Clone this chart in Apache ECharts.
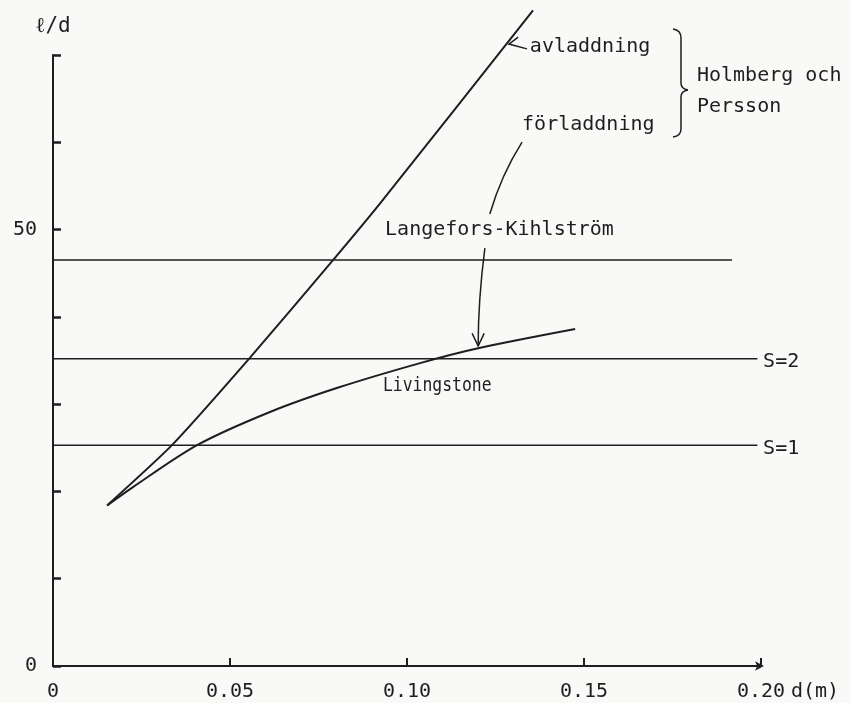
<!DOCTYPE html>
<html>
<head>
<meta charset="utf-8">
<script src="https://cdn.jsdelivr.net/npm/echarts@6/dist/echarts.min.js"></script>
<style>
  html, body { margin: 0; padding: 0; background: #f9f9f8; }
  #chart { width: 850px; height: 703px; }
</style>
</head>
<body>
<div id="chart"></div>
<script>
// Charge diameter d (m) against relative length l/d
const xTicks = [0, 0.05, 0.10, 0.15, 0.20];
const yLabelled = [0, 50];

// Holmberg & Persson, avladdning (discharge)
const avlD = [0.0153, 0.0336, 0.0556, 0.0791, 0.0924, 0.1356];
const avlV = [18.4, 25.3, 35.3, 46.5, 53.0, 75.1];

// Holmberg & Persson, förladdning (pre-charge)
const forD = [0.0153, 0.0226, 0.0407, 0.0613, 0.0806, 0.1037, 0.1201, 0.1475];
const forV = [18.4, 20.5, 25.3, 29.1, 31.9, 34.7, 36.4, 38.6];

// Horizontal reference levels: Langefors-Kihlström, S=2, S=1
const refNames = ['Langefors-Kihlström', 'S=2', 'S=1'];
const refLevels = [46.5, 35.2, 25.3];
const refEnds = [0.1918, 0.199, 0.199];

const INK = '#1e1e1e';
const FONT = 'DejaVu Sans Mono';

const zip = (xs, ys) => xs.map((x, i) => [x, ys[i]]);

const chart = echarts.init(document.getElementById('chart'));

const series = [
  {
    name: 'avladdning', type: 'line', data: zip(avlD, avlV),
    smooth: 0.2, symbol: 'none', clip: false,
    lineStyle: { color: INK, width: 2 }
  },
  {
    name: 'förladdning', type: 'line', data: zip(forD, forV),
    smooth: 0.3, symbol: 'none', clip: false,
    lineStyle: { color: INK, width: 2 }
  }
];
refLevels.forEach((lv, i) => {
  series.push({
    name: refNames[i], type: 'line', data: [[0, lv], [refEnds[i], lv]],
    symbol: 'none', clip: false,
    lineStyle: { color: INK, width: 1.5 }
  });
});

chart.setOption({
  backgroundColor: '#f9f9f8',
  animation: false,
  grid: { left: 53, right: 89, top: 55, bottom: 37, containLabel: false, outerBoundsMode: 'none' },
  xAxis: {
    type: 'value', min: 0, max: 0.2, interval: 0.05,
    name: 'd(m)', nameLocation: 'end', nameGap: 30,
    nameTextStyle: { fontFamily: FONT, fontSize: 20, color: INK, verticalAlign: 'top', padding: [16, 0, 0, 0] },
    axisLine: { lineStyle: { color: INK, width: 2 }, symbol: ['none', 'arrow'], symbolSize: [7, 9], symbolOffset: [0, 3] },
    axisTick: { inside: true, length: 8, lineStyle: { color: INK, width: 2 } },
    axisLabel: {
      fontFamily: FONT, fontSize: 20, color: INK, margin: 16,
      formatter: v => (v === 0 ? '0' : v.toFixed(2))
    },
    splitLine: { show: false }
  },
  yAxis: {
    type: 'value', min: 0, max: 70, interval: 10,
    name: 'ℓ/d', nameLocation: 'end', nameGap: 18,
    nameTextStyle: { fontFamily: FONT, fontSize: 21, color: INK, align: 'center' },
    axisLine: { lineStyle: { color: INK, width: 2 } },
    axisTick: { inside: true, length: 8, lineStyle: { color: INK, width: 2.5 } },
    axisLabel: {
      fontFamily: FONT, fontSize: 20, color: INK, margin: 16,
      formatter: v => (yLabelled.includes(v) ? String(v) : '')
    },
    splitLine: { show: false }
  },
  series: series
});

// Annotations placed in data units, converted through the grid
const P = (d, v) => chart.convertToPixel({ xAxisIndex: 0, yAxisIndex: 0 }, [d, v]);

function label(text, d, v, squeeze) {
  const p = P(d, v);
  return {
    type: 'text', x: p[0], y: p[1], scaleX: squeeze || 1, silent: true,
    style: {
      text: text, fill: INK, font: '20px "' + FONT + '"',
      textAlign: 'left', textVerticalAlign: 'middle', align: 'left', verticalAlign: 'middle'
    }
  };
}
function poly(pts, w) {
  return {
    type: 'polyline', silent: true,
    shape: { points: pts.map(q => P(q[0], q[1])) },
    style: { stroke: INK, lineWidth: w || 1.5, fill: null }
  };
}
function quad(a, c, b, w) {
  const pa = P(a[0], a[1]), pc = P(c[0], c[1]), pb = P(b[0], b[1]);
  return {
    type: 'bezierCurve', silent: true,
    shape: { x1: pa[0], y1: pa[1], cpx1: pc[0], cpy1: pc[1], x2: pb[0], y2: pb[1] },
    style: { stroke: INK, lineWidth: w || 1.5, fill: null }
  };
}

// right curly brace grouping the two Holmberg & Persson curves
const bx0 = 0.17514, bx1 = 0.17740, bx2 = 0.17938;
const brace = [
  quad([bx0, 72.97], [bx1, 72.85], [bx1, 71.94]),
  poly([[bx1, 71.94], [bx1, 66.78]]),
  quad([bx1, 66.78], [bx1, 66.09], [bx2, 65.98]),
  quad([bx2, 65.98], [bx1, 65.86], [bx1, 65.18]),
  poly([[bx1, 65.18], [bx1, 61.51]]),
  quad([bx1, 61.51], [bx1, 60.71], [bx0, 60.6])
];

chart.setOption({
  graphic: [
    label('avladdning', 0.1347, 70.9),
    label('förladdning', 0.1325, 62.0),
    label('Holmberg och', 0.1819, 67.6),
    label('Persson', 0.1819, 64.1),
    label('Langefors-Kihlström', 0.0938, 50.0),
    label('Livingstone', 0.0932, 32.1, 0.82),
    label('S=2', 0.2006, 34.9),
    label('S=1', 0.2006, 24.9),
    // small arrow pointing at the avladdning curve
    poly([[0.1314, 72.05], [0.1288, 71.25], [0.1339, 70.7]], 1.5),
    // leader from förladdning, through the Langefors-Kihlström label, to the curve
    quad([0.1325, 60.02], [0.1266, 56.24], [0.1234, 51.78]),
    quad([0.1220, 47.88], [0.1201, 41.92], [0.1201, 36.65]),
    poly([[0.1184, 38.1], [0.1201, 36.65], [0.1218, 38.1]], 1.5)
  ].concat(brace)
});
</script>
</body>
</html>
